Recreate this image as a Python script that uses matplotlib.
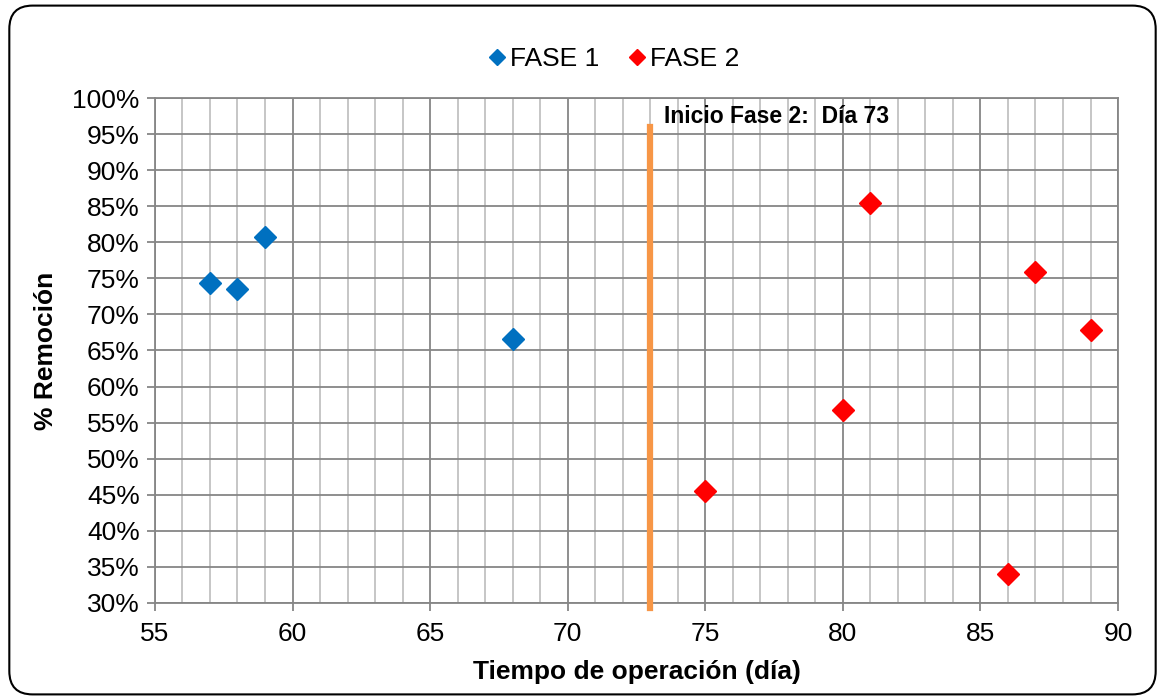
import numpy as np
import matplotlib.pyplot as plt
from matplotlib.patches import FancyBboxPatch
from matplotlib.ticker import MultipleLocator, PercentFormatter
import matplotlib as mpl

mpl.rcParams['font.family'] = ['Liberation Sans', 'DejaVu Sans']

# datos
dias_f1 = [57, 58, 59, 68]
rem_f1 = [74.3, 73.5, 80.8, 66.6]
dias_f2 = [75, 80, 81, 86, 87, 89]
rem_f2 = [45.5, 56.8, 85.5, 34.0, 75.9, 67.9]
dia_inicio_f2 = 73

fig = plt.figure(figsize=(11.65, 7.0), dpi=100)
ax = fig.add_axes([0.133, 0.1386, 0.8267, 0.7214])

# marco redondeado
frame = FancyBboxPatch((0.008, 0.008), 0.984, 0.984, boxstyle="round,pad=0,rounding_size=0.02",
                       transform=fig.transFigure, fill=False, edgecolor='black', linewidth=1.5,
                       mutation_aspect=1165 / 700)
fig.patches.append(frame)

ax.set_xlim(55, 90)
ax.set_ylim(30, 100)
ax.xaxis.set_major_locator(MultipleLocator(5))
ax.xaxis.set_minor_locator(MultipleLocator(1))
ax.yaxis.set_major_locator(MultipleLocator(5))
ax.yaxis.set_major_formatter(PercentFormatter(decimals=0))

ax.grid(which='major', color='#868686', linewidth=1.3, zorder=0)
ax.grid(which='minor', axis='x', color='#bcbcbc', linewidth=1.2, zorder=0)
ax.set_axisbelow(True)
for s in ax.spines.values():
    s.set_color('#868686')
    s.set_linewidth(1.3)

ax.tick_params(which='major', direction='out', length=6, color='#868686', width=1.3,
               labelsize=19, pad=5)
ax.tick_params(axis='x', which='major', pad=8)
ax.tick_params(which='minor', length=0)

ax.axvline(dia_inicio_f2, ymin=-0.01, ymax=0.943, color='#f79646', linewidth=4.5,
           clip_on=False, zorder=3)
ax.text(dia_inicio_f2 + 0.5, 97.4, 'Inicio Fase 2:  Día 73', fontsize=16.5, fontweight='bold',
        family=['Liberation Sans Narrow', 'Liberation Sans'], va='center', ha='left')

ax.plot(dias_f1, rem_f1, linestyle='none', marker='D', markersize=11.5, color='#0070c0',
        label='FASE 1', zorder=4)
ax.plot(dias_f2, rem_f2, linestyle='none', marker='D', markersize=11.5, color='#ff0000',
        label='FASE 2', zorder=4)

ax.set_xlabel('Tiempo de operación (día)', fontsize=19, fontweight='bold', labelpad=10)
ax.set_ylabel('% Remoción', fontsize=19, fontweight='bold', labelpad=10)

leg = fig.legend(loc='center', bbox_to_anchor=(0.525, 0.915), ncol=2, frameon=False,
                 fontsize=19, handletextpad=0.0, columnspacing=0.9, markerscale=0.7,
                 handlelength=1.0)

fig.savefig('out.png', dpi=100)
